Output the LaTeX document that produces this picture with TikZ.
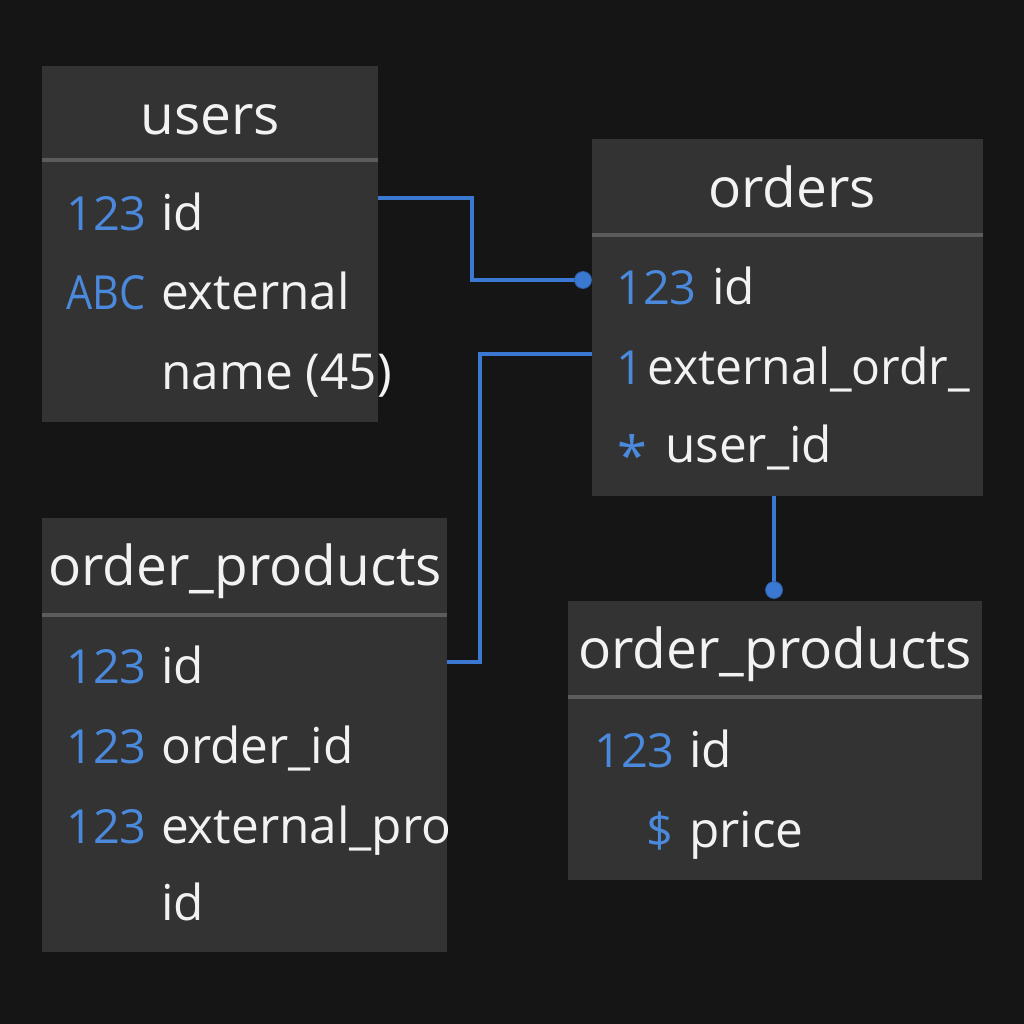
\documentclass[tikz,border=0pt]{standalone}
\usepackage{fontspec}
\setmainfont{Open Sans}
\usetikzlibrary{calc}
\definecolor{bg}{HTML}{151515}
\definecolor{boxfill}{HTML}{333333}
\definecolor{sepcol}{HTML}{5C5C5C}
\definecolor{blu}{HTML}{3A78D2}
\definecolor{icon}{HTML}{4A89DC}
\definecolor{txt}{HTML}{F2F2F2}
\tikzset{
  tbl/.style={fill=boxfill, draw=none, anchor=north west, inner sep=0pt},
  sepline/.style={draw=sepcol, line width=3.5pt},
  ttl/.style={text=txt, font=\fontsize{55}{66}\selectfont, anchor=base, inner sep=0pt},
  fld/.style={text=txt, font=\fontsize{49.5}{60}\selectfont, anchor=base west, inner sep=0pt},
  ico/.style={text=icon, font=\fontsize{47}{57}\selectfont, anchor=base west, inner sep=0pt},
  link/.style={draw=blu, line width=3.8pt},
  dotend/.style={circle, fill=blu, draw=blu!80!black, line width=0.8pt, minimum size=17pt, inner sep=0pt}
}
\begin{document}
\begin{tikzpicture}[x=1pt,y=-1pt]
\fill[bg] (0,0) rectangle (1024,1024);
\useasboundingbox (0,0) rectangle (1024,1024);

% users
\node[tbl, minimum width=336pt, minimum height=356pt] (users) at (42,66) {};
\draw[sepline] (42,160) -- (378,160);
\node[ttl] (users-t) at (210,135) {users};
\node[ico] (users-i1) at (66,230) {123};
\node[fld] (users-f1) at (161,230) {id};
\node[ico] (users-i2) at (66,309) {\scalebox{0.88}[1]{ABC}};
\node[fld] (users-f2) at (161,309) {external};
\node[fld] (users-f3) at (161,389) {name (45)};

% orders
\node[tbl, minimum width=391pt, minimum height=357pt] (orders) at (592,139) {};
\draw[sepline] (592,235) -- (983,235);
\node[ttl] (orders-t) at (792,208) {orders};
\node[ico] (orders-i1) at (616,304) {123};
\node[fld] (orders-f1) at (712,304) {id};
\node[ico] (orders-i2) at (616,384) {1};
\node[fld] (orders-f2) at (647,384) {\scalebox{0.97}[1]{external\_ordr\_}};
\node[ico, font=\fontsize{54}{60}\selectfont] (orders-i3) at (617,475) {*};
\node[fld] (orders-f3) at (665,462) {user\_id};

% order_products (left)
\node[tbl, minimum width=405pt, minimum height=434pt] (opl) at (42,518) {};
\draw[sepline] (42,615) -- (447,615);
\node[ttl] (opl-t) at (245,585) {order\_products};
\node[ico] (opl-i1) at (66,683) {123};
\node[fld] (opl-f1) at (161,683) {id};
\node[ico] (opl-i2) at (66,763) {123};
\node[fld] (opl-f2) at (161,763) {order\_id};
\node[ico] (opl-i3) at (66,843) {123};
\begin{scope}
\clip (42,518) rectangle (447,952);
\node[fld] (opl-f3) at (161,843) {external\_pro};
\end{scope}
\node[fld] (opl-f4) at (161,920) {id};

% order_products (right)
\node[tbl, minimum width=414pt, minimum height=279pt] (opr) at (568,601) {};
\draw[sepline] (568,697) -- (982,697);
\node[ttl] (opr-t) at (775,668) {order\_products};
\node[ico] (opr-i1) at (594,767) {123};
\node[fld] (opr-f1) at (689,767) {id};
\node[ico] (opr-i2) at (646,847) {\$};
\node[fld] (opr-f2) at (689,847) {price};

% connectors
\coordinate (d1) at (583,280);
\coordinate (d3) at (774,590);
\draw[link] (users.east |- 0,198) -- (472,198) |- (d1);
\node[dotend] (dot1) at (d1) {};
\draw[link] (orders.west |- 0,354) -- (480,354) |- (opl.east |- 0,662);
\draw[link] (orders.south -| d3) -- (d3);
\node[dotend] (dot3) at (d3) {};
\end{tikzpicture}
\end{document}
